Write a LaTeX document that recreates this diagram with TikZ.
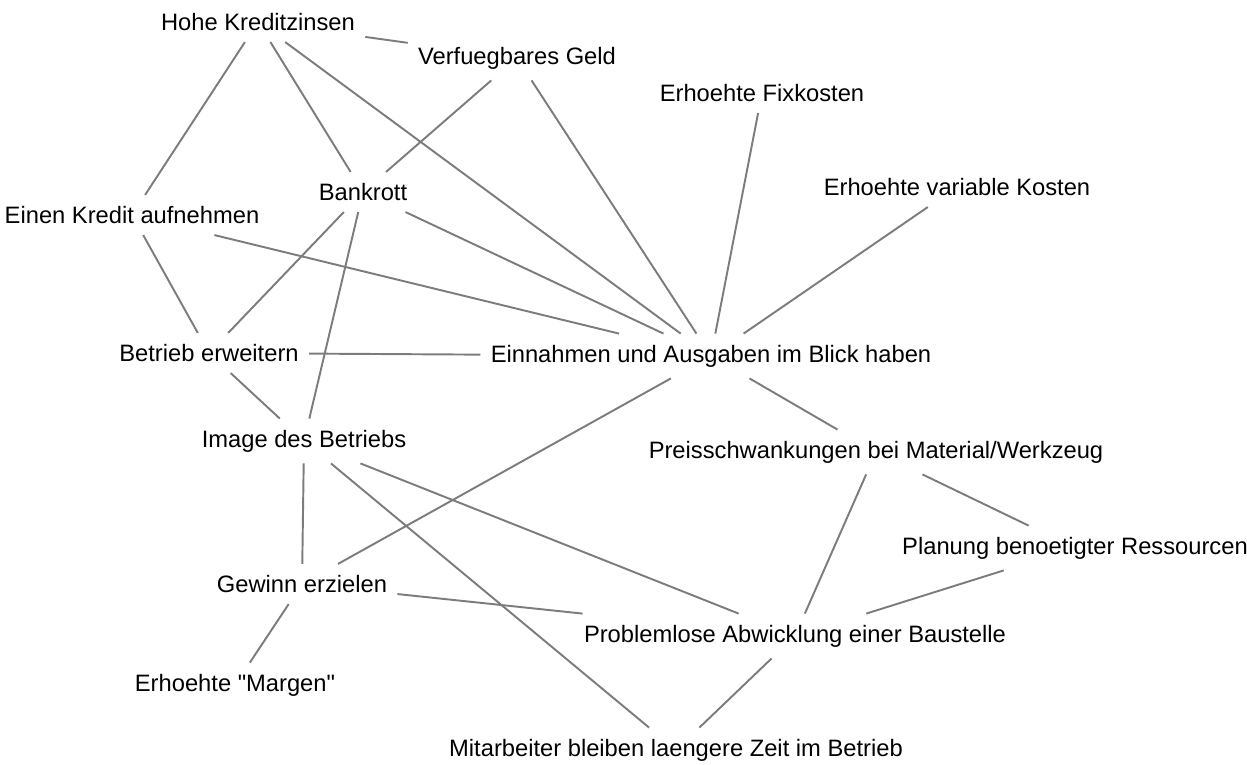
\documentclass[tikz,border=0pt]{standalone}
\usepackage{fontspec}
\newfontfamily\labelfont{Liberation Sans}
\usetikzlibrary{positioning}
\definecolor{wire}{RGB}{124,124,124}
\definecolor{ink}{RGB}{0,0,0}
\tikzset{
  concept/.style={text=ink,font=\labelfont\fontsize{13.5}{16}\selectfont,inner xsep=0.2cm,inner ysep=0.22cm},
  link/.style={draw=wire,line width=1.1pt},
}
\begin{document}
\begin{tikzpicture}
  \useasboundingbox (0,0) rectangle (24.94,-15.3);
  % concepts
  \node[concept] (hohe) at (5.16,-0.44) {Hohe Kreditzinsen};
  \node[concept] (geld) at (10.34,-1.16) {Verfuegbares Geld};
  \node[concept] (fix) at (15.24,-1.86) {Erhoehte Fixkosten};
  \node[concept] (bank) at (7.26,-3.84) {Bankrott};
  \node[concept] (var) at (19.14,-3.74) {Erhoehte variable Kosten};
  \node[concept] (kredit) at (2.64,-4.30) {Einen Kredit aufnehmen};
  \node[concept] (erweitern) at (4.18,-7.06) {Betrieb erweitern};
  \node[concept] (blick) at (14.22,-7.12) {Einnahmen und Ausgaben im Blick haben};
  \node[concept] (image) at (6.08,-8.82) {Image des Betriebs};
  \node[concept] (preis) at (17.52,-9.04) {Preisschwankungen bei Material/Werkzeug};
  \node[concept] (planung) at (21.50,-10.96) {Planung benoetigter Ressourcen};
  \node[concept] (gewinn) at (6.04,-11.68) {Gewinn erzielen};
  \node[concept] (abwicklung) at (15.90,-12.72) {Problemlose Abwicklung einer Baustelle};
  \node[concept] (margen) at (4.70,-13.70) {Erhoehte "Margen"};
  \node[concept] (mitarbeiter) at (13.52,-15.00) {Mitarbeiter bleiben laengere Zeit im Betrieb};
  % links
  \foreach \a/\b in {hohe/geld,hohe/kredit,hohe/bank,hohe/blick,geld/bank,geld/blick,
    fix/blick,var/blick,bank/erweitern,bank/blick,bank/image,kredit/blick,kredit/erweitern,
    erweitern/blick,erweitern/image,blick/gewinn,blick/preis,image/gewinn,image/abwicklung,
    image/mitarbeiter,preis/planung,preis/abwicklung,planung/abwicklung,gewinn/abwicklung,
    gewinn/margen,abwicklung/mitarbeiter}
    \draw[link] (\a) -- (\b);
\end{tikzpicture}
\end{document}
